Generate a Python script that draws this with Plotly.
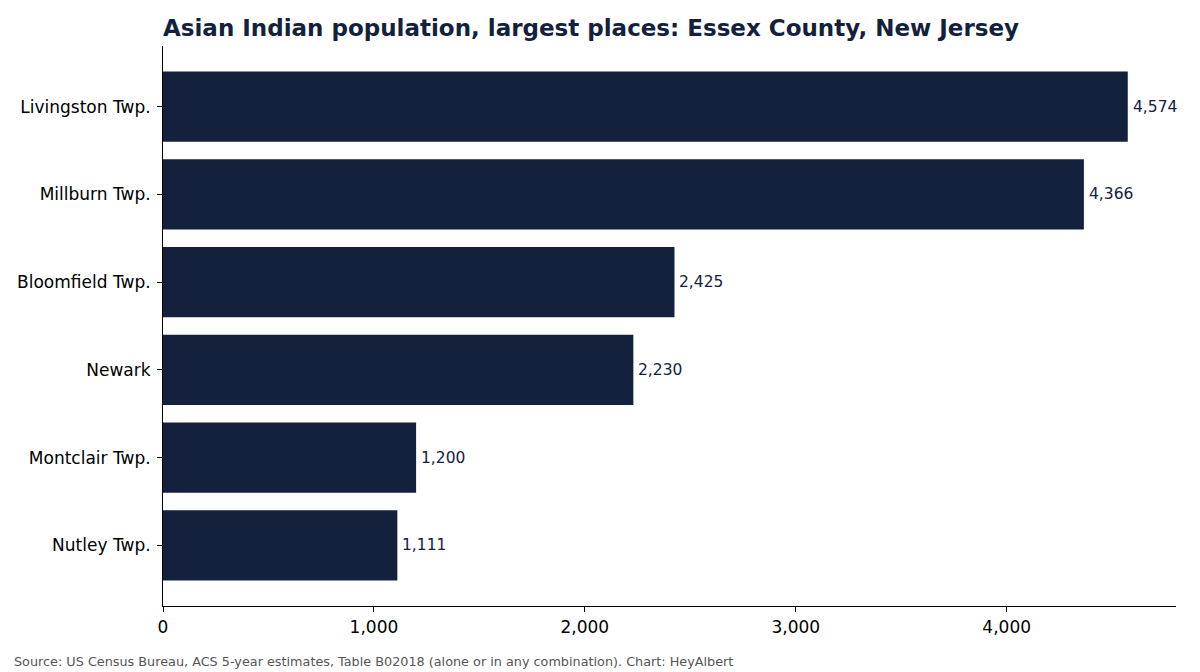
import plotly.graph_objects as go

places = ["Livingston Twp.", "Millburn Twp.", "Bloomfield Twp.", "Newark", "Montclair Twp.", "Nutley Twp."]
population = [4574, 4366, 2425, 2230, 1200, 1111]
x_ticks = [0, 1000, 2000, 3000, 4000]
x_tick_labels = ["0", "1,000", "2,000", "3,000", "4,000"]

NAVY = "#14213d"
FONT = "DejaVu Sans"

fig = go.Figure(go.Bar(
    x=population,
    y=places,
    orientation="h",
    width=0.8,
    marker=dict(color=NAVY, line=dict(width=0)),
    hoverinfo="skip",
))

annotations = [dict(
    x=v, y=p, xref="x", yref="y",
    text=f"{v:,}", showarrow=False,
    xanchor="left", yanchor="middle", xshift=3,
    font=dict(family=FONT, size=15.5, color=NAVY),
) for p, v in zip(places, population)]

PW, PH = 1200 - 163 - 24, 672 - 46 - 66
annotations.append(dict(
    text="Source: US Census Bureau, ACS 5-year estimates, Table B02018 (alone or in any combination). Chart: HeyAlbert",
    xref="paper", yref="paper",
    x=(12 - 163) / PW, y=-(661 - 606) / PH,
    xanchor="left", yanchor="middle", showarrow=False,
    font=dict(family=FONT, size=12.8, color="#555555"),
))

fig.update_layout(
    width=1200, height=672,
    margin=dict(l=163, r=24, t=46, b=66),
    paper_bgcolor="white", plot_bgcolor="white",
    font=dict(family=FONT, size=17, color="black"),
    showlegend=False,
    title=dict(
        text="<b>Asian Indian population, largest places: Essex County, New Jersey</b>",
        font=dict(family=FONT, size=23, color=NAVY),
        x=163/1200, xanchor="left", xref="container",
        y=1-28/672, yanchor="middle", yref="container",
    ),
    xaxis=dict(
        range=[0, 4802.7],
        tickmode="array", tickvals=x_ticks, ticktext=x_tick_labels,
        showgrid=False, zeroline=False,
        showline=True, linecolor="black", linewidth=1,
        ticks="outside", ticklen=5, tickcolor="black", tickwidth=1,
        tickfont=dict(family=FONT, size=17, color="black"),
        ticklabelstandoff=1,
    ),
    yaxis=dict(
        type="category",
        categoryorder="array", categoryarray=places,
        range=[5.69, -0.69],
        showgrid=False, zeroline=False,
        showline=True, linecolor="black", linewidth=1,
        ticks="outside", ticklen=5, tickcolor="black", tickwidth=1,
        tickfont=dict(family=FONT, size=17, color="black"),
        ticklabelstandoff=3,
    ),
    annotations=annotations,
)

fig.write_html("out.html")
